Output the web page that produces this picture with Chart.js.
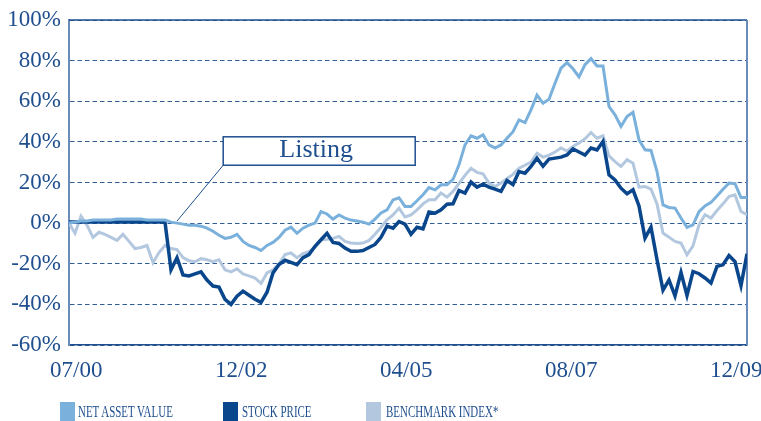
<!DOCTYPE html>
<html>
<head>
<meta charset="utf-8">
<script src="https://cdn.jsdelivr.net/npm/chart.js@4"></script>
<style>
  body { margin: 0; background: #fff; }
  #wrap { position: relative; width: 761px; height: 421px; overflow: hidden; }
  .legend { position: absolute; top: 402px; font-family: "Liberation Serif", serif; font-size: 17px; color: #1f4f8f; }
  .legend .sw { position: absolute; top: 0; width: 15px; height: 19px; }
  .legend .tx { position: absolute; top: 0px; white-space: nowrap; transform: scaleX(0.645); transform-origin: left top; }
</style>
</head>
<body>
<div id="wrap">
  <canvas id="navChart" width="761" height="421"></canvas>
</div>
<script>
// series, one value per month from 07/00 to 12/09 (%)
const navValues = [
  0, 0.5, 1, 1, 1.5, 1.5, 1.5, 1.5, 2, 2, 2, 2, 2, 1.5, 1.5, 1.5,
  1.5, 0.5, 0, -0.5, -1, -1, -1.5, -2.5, -4, -6, -7.5, -7, -5.5, -9,
  -11, -12, -13.5, -11, -9.5, -7, -3.5, -2, -5, -2.5, -1, 0, 5.7, 4.5,
  2, 4, 2.5, 1.5, 1, 0.5, -0.5, 2, 5, 6.5, 11.4, 12.5, 8.2, 8.2, 11,
  14, 17.5, 16.4, 18.9, 18.9, 21.5, 28.7, 38.5, 43, 41.8, 43.5, 38.5, 37,
  38.5, 41.8, 45, 50.8, 49.5, 55.8, 63, 59, 61, 68.9, 76.3, 79, 76, 72,
  78, 81, 77.4, 77.4, 57.4, 53.3, 47.6, 52.5, 54.6, 41, 36.1, 35.8, 25.4,
  9, 7.7, 7.4, 2.5, -2.1, -0.8, 5.7, 8.5, 10.2, 13.4, 16.7, 19.7, 19.4,
  12.6, 12.6
];
const stockValues = [
  0.5, 0.5, 0.5, 0.5, 0.5, 0.5, 0.5, 0.5, 0.5, 0.5, 0.5, 0.5, 0.5, 0.5, 0.5, 0.5,
  0.5, -23, -17, -25.5, -26, -25, -24, -28, -31, -31.5, -37.5, -40, -36, -33.5,
  -35.5, -37.5, -39, -34, -24.5, -20.4, -18.3, -19.3, -20.4, -17, -15.5, -11.4,
  -8.2, -5, -9.5, -10, -12.3, -13.9, -13.9, -13.5, -12, -10.5, -7, -1.5, -2.5,
  0.8, -0.5, -5.5, -2, -2.8, 5.5, 4.9, 6.6, 9.3, 9.5, 16, 14.8, 20.2, 17.7,
  19.2, 17.7, 16.7, 15.6, 21, 19, 25.4, 24.6, 27.9, 32, 28, 31.5, 32, 32.5,
  33.6, 36.5, 35, 33.5, 37, 36, 40.2, 23.8, 21.3, 17.2, 14.4, 16.4, 8.5, -7.4,
  -2, -18, -33, -28, -35.8, -24.3, -35.6, -23.8, -24.9, -27, -29.5, -21.3,
  -20.5, -16, -19, -30.8, -15.1
];
const benchValues = [
  0, -5, 3.5, -1, -7, -4.5, -5.5, -7, -8.5, -5.5, -9, -12.5, -12, -11, -19.5,
  -14.5, -11, -12.5, -13, -17, -18.5, -19, -17.5, -18, -19, -18, -23, -24,
  -22.5, -25, -26, -27, -29.7, -24.5, -23, -20, -15.5, -14.7, -17, -15, -14,
  -12, -8.2, -8, -7.5, -6.5, -9, -9.8, -10, -9.8, -8.5, -5.5, -2, 1.6, 4, 7.4,
  3, 4, 6.5, 9.5, 11.5, 11.5, 14.8, 12.8, 15.6, 19.5, 23.5, 27, 25, 24.3, 19.7,
  18, 19.7, 22, 24, 27, 28.5, 30, 34.4, 32.5, 33.5, 35, 37, 35.5, 37.7, 39.5,
  41.5, 44.6, 41.8, 43, 33.1, 30.3, 27.9, 31.2, 29.5, 17.7, 18, 16.7, 9.5, -4.9,
  -6.9, -9, -9.8, -15.6, -11.2, -0.8, 4.1, 2.5, 6.2, 9.5, 13.1, 13.9, 5.7, 4.1
];
const seriesNames = ['NET ASSET VALUE', 'STOCK PRICE', 'BENCHMARK INDEX*'];
const seriesColors = ['#7ab1dc', '#0a468b', '#b3c8df'];
const tickLabels = ['07/00', '12/02', '04/05', '08/07', '12/09'];
const yTicks = [-60, -40, -20, 0, 20, 40, 60, 80, 100];
const listingText = 'Listing';
const listingMonth = 18; // point the callout refers to

const textColor = '#1f4f8f';
const serif = '"Liberation Serif", "Times New Roman", serif';

// label positions along x (in months), evenly spread like the original
const firstTick = 1.2, tickStep = 27.5;

function toPoints(arr) {
  return arr.map((v, i) => ({ x: i, y: v }));
}

// callout box + top/right frame lines
const framePlugin = {
  id: 'frame',
  beforeDatasetsDraw(chart) {
    const { ctx, chartArea: a } = chart;
    ctx.save();
    ctx.lineWidth = 1.5;
    ctx.strokeStyle = '#1f4f8f';
    ctx.beginPath();
    ctx.moveTo(a.left, a.top);
    ctx.lineTo(a.right, a.top);
    ctx.stroke();
    ctx.lineWidth = 2;
    ctx.strokeStyle = '#6a8cbb';
    ctx.beginPath();
    ctx.moveTo(a.right, a.top);
    ctx.lineTo(a.right, a.bottom);
    ctx.stroke();
    ctx.restore();
  },
  afterDatasetsDraw(chart) {
    const { ctx, scales } = chart;
    const x = scales.x, y = scales.y;
    const l = x.getPixelForValue(25.7), r = x.getPixelForValue(57.7);
    const t = y.getPixelForValue(42.5), b = y.getPixelForValue(28.5);
    ctx.save();
    ctx.strokeStyle = '#1f4f8f';
    ctx.lineWidth = 1;
    ctx.beginPath();
    ctx.moveTo(l, b);
    ctx.lineTo(x.getPixelForValue(listingMonth), y.getPixelForValue(1));
    ctx.stroke();
    ctx.fillStyle = '#fff';
    ctx.fillRect(l, t, r - l, b - t);
    ctx.lineWidth = 1.5;
    ctx.strokeRect(l, t, r - l, b - t);
    ctx.fillStyle = textColor;
    ctx.font = '26px ' + serif;
    ctx.textAlign = 'center';
    ctx.textBaseline = 'alphabetic';
    ctx.fillText(listingText, (l + r) / 2 - 3, b - 8.5);
    ctx.restore();
  }
};

const ctx = document.getElementById('navChart').getContext('2d');
const chart = new Chart(ctx, {
  type: 'line',
  data: {
    datasets: [
      { label: seriesNames[0], data: toPoints(navValues), borderColor: seriesColors[0] },
      { label: seriesNames[1], data: toPoints(stockValues), borderColor: seriesColors[1], borderWidth: 3.5 },
      { label: seriesNames[2], data: toPoints(benchValues), borderColor: seriesColors[2] }
    ]
  },
  options: {
    responsive: false,
    animation: false,
    layout: { padding: { top: 20, right: 14, bottom: 0, left: 0 } },
    elements: {
      line: { borderWidth: 3, tension: 0, fill: false, borderJoinStyle: 'miter' },
      point: { radius: 0 }
    },
    plugins: { legend: { display: false }, tooltip: { enabled: false } },
    scales: {
      x: {
        type: 'linear',
        min: 0,
        max: navValues.length - 1,
        grid: { display: false, drawTicks: false },
        border: { display: true, color: '#1f4f8f', width: 1.5 },
        afterBuildTicks: s => {
          s.ticks = tickLabels.map((_, i) => ({ value: firstTick + i * tickStep }));
        },
        ticks: {
          autoSkip: false,
          maxRotation: 0,
          padding: 12,
          color: textColor,
          font: { family: serif, size: 23 },
          callback: (v, i) => tickLabels[i]
        },
        afterFit: s => { s.height = 76; s.paddingLeft = 0; s.paddingRight = 0; }
      },
      y: {
        min: -60,
        max: 100,
        afterBuildTicks: s => { s.ticks = yTicks.map(v => ({ value: v })); },
        grid: { color: '#2f5d95', lineWidth: 1, drawTicks: false },
        border: { display: true, color: '#6a8cbb', width: 2, dash: [4.5, 3] },
        ticks: {
          padding: 8,
          color: textColor,
          font: { family: serif, size: 23 },
          callback: v => v + '%'
        },
        afterFit: s => { s.width = 69; s.paddingTop = 0; s.paddingBottom = 0; }
      }
    }
  },
  plugins: [framePlugin]
});

// legend under the chart
const legendSpots = [[60, 77.7], [222.7, 242], [365.5, 386]];
const wrap = document.getElementById('wrap');
seriesNames.forEach((name, i) => {
  const item = document.createElement('div');
  item.className = 'legend';
  item.style.left = '0px';
  item.innerHTML = '<div class="sw" style="left:' + legendSpots[i][0] + 'px;background:' + seriesColors[i] + '"></div>' +
    '<div class="tx" style="left:' + legendSpots[i][1] + 'px">' + name + '</div>';
  wrap.appendChild(item);
});
</script>
</body>
</html>
